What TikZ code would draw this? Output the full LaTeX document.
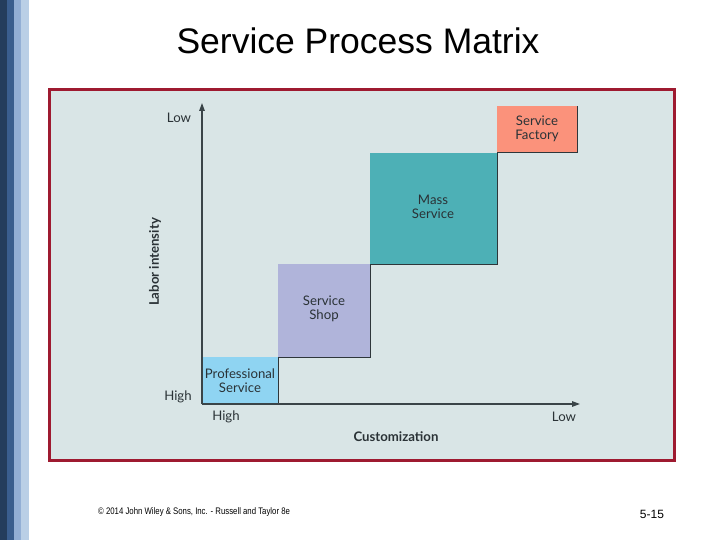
\documentclass[tikz,border=0pt]{standalone}
\usepackage{fontspec}
\setmainfont{Liberation Sans}
\newfontfamily\figfont{Lato}
\usetikzlibrary{arrows.meta}
\definecolor{stripeA}{HTML}{243D5C}
\definecolor{stripeB}{HTML}{3A5E8E}
\definecolor{stripeC}{HTML}{93AFD5}
\definecolor{stripeD}{HTML}{BACFE6}
\definecolor{framered}{HTML}{9E1A30}
\definecolor{panel}{HTML}{D9E5E6}
\definecolor{profblue}{HTML}{8FD4F2}
\definecolor{shoplav}{HTML}{B0B4DA}
\definecolor{massteal}{HTML}{4DB0B6}
\definecolor{factsalmon}{HTML}{FB927B}
\definecolor{axisgray}{HTML}{3A4448}
\definecolor{txtdark}{HTML}{2A3236}
\tikzset{
  cell/.style={draw=none, inner sep=0pt},
  celltext/.style={font=\figfont\fontsize{13.2}{13.6}\selectfont, text=txtdark, align=center, inner sep=0pt},
  axlabel/.style={font=\figfont\fontsize{13.2}{13.6}\selectfont, text=txtdark, inner sep=0pt},
  axtitle/.style={font=\figfont\bfseries\fontsize{13.2}{13.6}\selectfont, text=txtdark, inner sep=0pt},
  shade/.style={draw=axisgray!80!black, line width=1pt},
  axis/.style={draw=axisgray, line width=1.3pt, -{Triangle[length=8pt,width=5.5pt]}}
}
\begin{document}
\begin{tikzpicture}[x=1pt,y=-1pt]
\useasboundingbox (0,0) rectangle (720,540);
\fill[white] (0,0) rectangle (720,540);
% left stripes
\fill[stripeA] (0,0) rectangle (7,540);
\fill[stripeB] (7,0) rectangle (14,540);
\fill[stripeC] (14,0) rectangle (21,540);
\fill[stripeD] (21,0) rectangle (29,540);
% title
\node[font=\fontsize{35.5}{40}\selectfont, inner sep=0pt] (title) at (358,41) {Service Process Matrix};
% panel
\draw[framered, line width=3pt, fill=panel] (49.5,89.5) rectangle (674.5,460.5);
% cells
\fill[profblue] (202,357) rectangle (278,404);
\fill[shoplav] (278,264) rectangle (370,357);
\fill[massteal] (370,153) rectangle (497,264);
\fill[factsalmon] (497,106) rectangle (577,153);
\draw[shade] (278,357) -- (278,404);
\draw[shade] (278,357) -- (370,357) -- (370,264);
\draw[shade] (370,264) -- (497,264) -- (497,153);
\draw[shade] (497,153) -- (577,153) -- (577,106);
\node[celltext] (prof) at (240,380.5) {Professional\\Service};
\node[celltext] (shop) at (324,309) {Service\\Shop};
\node[celltext] (mass) at (433,207) {Mass\\Service};
\node[celltext] (fact) at (537,129) {Service\\Factory};
% axes
\coordinate (origin) at (202,404);
\coordinate (ytop) at (202,103);
\coordinate (xend) at (580,404);
\draw[axis] (origin) -- (ytop);
\draw[axis] (origin) -- (xend);
\node[axlabel] (ylow) at (179,118) {Low};
\node[axlabel] (yhigh) at (178,397) {High};
\node[axlabel] (xhigh) at (226,417) {High};
\node[axlabel] (xlow) at (564,417) {Low};
\node[axtitle] (xtitle) at (396,437) {Customization};
\node[axtitle, rotate=90] (ytitle) at (155,262) {Labor intensity};
% footer
\node[font=\fontsize{9.5}{11}\selectfont, anchor=west, inner sep=0pt, xscale=0.82] (copy) at (98,512) {© 2014 John Wiley \& Sons, Inc. - Russell and Taylor 8e};
\node[font=\fontsize{12}{14}\selectfont, inner sep=0pt] (page) at (652,514) {5-15};
\end{tikzpicture}
\end{document}
